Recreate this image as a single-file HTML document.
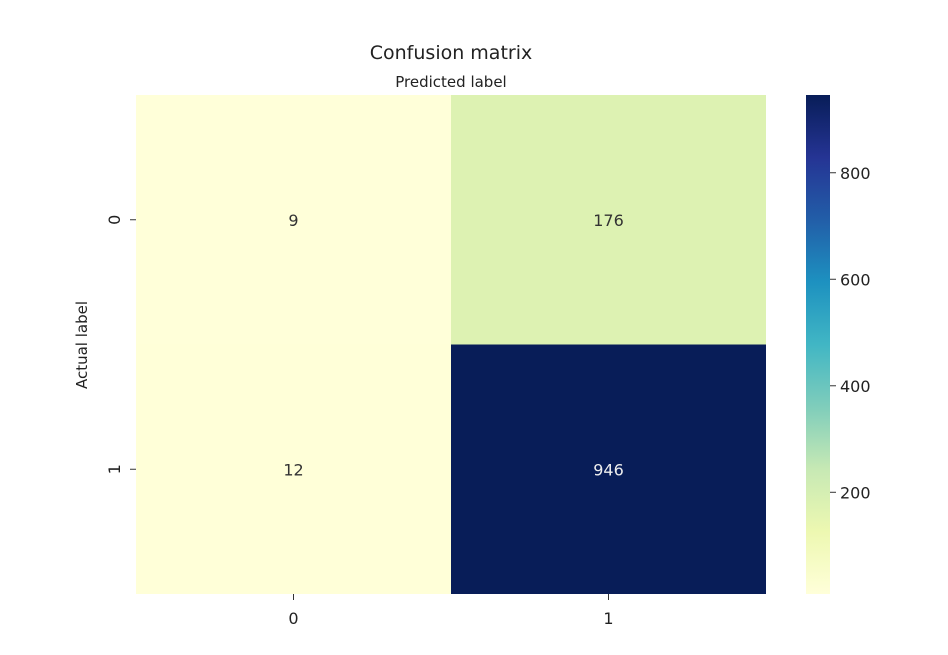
<!DOCTYPE html>
<html><head><meta charset="utf-8"><style>
body{margin:0;background:#fff;}
svg text{font-family:"DejaVu Sans","Liberation Sans",sans-serif;}
</style></head><body>
<svg id="chart" width="948" height="650" xmlns="http://www.w3.org/2000/svg">
<defs>
<linearGradient id="ylgnbu" x1="0" y1="1" x2="0" y2="0">
<stop offset="0" stop-color="#ffffd9"/><stop offset="0.125" stop-color="#edf8b1"/><stop offset="0.25" stop-color="#c7e9b4"/><stop offset="0.375" stop-color="#7fcdbb"/><stop offset="0.5" stop-color="#41b6c4"/><stop offset="0.625" stop-color="#1d91c0"/><stop offset="0.75" stop-color="#225ea8"/><stop offset="0.875" stop-color="#253494"/><stop offset="1" stop-color="#081d58"/>
</linearGradient>
</defs>
<text x="451" y="59" font-size="19" text-anchor="middle" fill="#222">Confusion matrix</text>
<text x="451" y="87" font-size="15" text-anchor="middle" fill="#222">Predicted label</text>
<text transform="translate(87,345) rotate(-90)" font-size="15" text-anchor="middle" fill="#222">Actual label</text>
<g id="cells"></g>
<rect x="806" y="95" width="24" height="499" fill="url(#ylgnbu)"/>
<g id="cbticks"></g>
</svg>
<script>
const rowLabels = ["0","1"];
const colLabels = ["0","1"];
const values = [[9,176],[12,946]];
const cbTicks = [200,400,600,800];
const vmin = 9, vmax = 946;
const X0=136,X1=766,Y0=95,Y1=594;
const NS="http://www.w3.org/2000/svg";
const stops=["#ffffd9","#edf8b1","#c7e9b4","#7fcdbb","#41b6c4","#1d91c0","#225ea8","#253494","#081d58"];
function hex(h){return [1,3,5].map(i=>parseInt(h.substr(i,2),16));}
function color(v){let t=(v-vmin)/(vmax-vmin)*(stops.length-1);let i=Math.min(Math.floor(t),stops.length-2);let f=t-i;let a=hex(stops[i]),b=hex(stops[i+1]);return "rgb("+a.map((c,k)=>Math.round(c+(b[k]-c)*f)).join(",")+")";}
const cw=(X1-X0)/colLabels.length, ch=(Y1-Y0)/rowLabels.length;
const xs=c=>X0+c*cw, ys=r=>Y0+r*ch;
const cy=v=>Y1-(v-vmin)/(vmax-vmin)*(Y1-Y0);
const g=document.getElementById("cells");
function mk(tag,attrs,parent){const e=document.createElementNS(NS,tag);for(const k in attrs)e.setAttribute(k,attrs[k]);parent.appendChild(e);return e;}
values.forEach((row,r)=>row.forEach((v,c)=>{
 const rc=mk("rect",{x:xs(c),y:ys(r),width:cw,height:ch,fill:color(v)},g);
 
 
 const t=mk("text",{x:xs(c)+cw/2,y:ys(r)+ch/2+6,"font-size":16,"text-anchor":"middle",fill:(v-vmin)/(vmax-vmin)>0.5?"#eee":"#333"},g);
 t.textContent=v;
 
 
}));
colLabels.forEach((l,c)=>{
 mk("line",{x1:xs(c)+cw/2,x2:xs(c)+cw/2,y1:Y1,y2:Y1+6,stroke:"#333"},g);
 const t=mk("text",{x:xs(c)+cw/2,y:Y1+30,"font-size":16,"text-anchor":"middle",fill:"#222"},g);
 t.textContent=l;
 
 
});
rowLabels.forEach((l,r)=>{
 const y=ys(r)+ch/2;
 mk("line",{x1:X0-6,x2:X0,y1:y,y2:y,stroke:"#333"},g);
 const t=mk("text",{transform:"translate("+(X0-16)+","+y+") rotate(-90)","font-size":16,"text-anchor":"middle",fill:"#222"},g);
 t.textContent=l;
 
 
});
const cb=document.getElementById("cbticks");
cbTicks.forEach(v=>{
 const y=cy(v);
 mk("line",{x1:830,x2:836,y1:y,y2:y,stroke:"#333"},cb);
 const t=mk("text",{x:840,y:y+6,"font-size":16,fill:"#222"},cb);
 t.textContent=v;
 
 
});
</script>
</body></html>
